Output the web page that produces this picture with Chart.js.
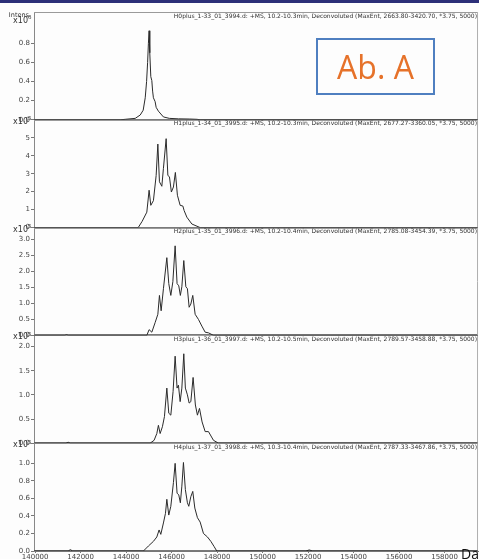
<!DOCTYPE html>
<html>
<head>
<meta charset="utf-8">
<title>Deconvoluted spectra – Ab. A</title>
<script src="https://cdn.jsdelivr.net/npm/chart.js"></script>
<style>
  html, body { margin: 0; padding: 0; background: #fdfdfd; }
  .wrap { position: relative; width: 479px; height: 559px; overflow: hidden; }
  .band { position: absolute; left: 0; top: 0; width: 479px; height: 3px; background: #2c2f78; }
  canvas { position: absolute; left: 0; top: 0; }
  .tag {
    position: absolute; left: 316px; top: 38px; width: 115px; height: 53px;
    border: 2px solid #4f7fc0; color: #e6722a; text-align: center;
    font: 32px 'Open Sans', sans-serif; line-height: 53px;
  }
  .unit { position: absolute; left: 461px; top: 544px; font: 14px 'Open Sans', sans-serif; color: #111; }
</style>
</head>
<body>
<div class="wrap">
  <canvas id="ms" width="479" height="559"></canvas>
  <div class="band"></div>
  <div class="tag">Ab. A</div>
  <div class="unit">Da</div>
</div>
<script>
'use strict'

// mass axis (Da)
const xMin = 139950
const xMax = 159470
const xTicks = [140000, 142000, 144000, 146000, 148000, 150000, 152000, 154000, 156000, 158000]

const titles = [
  'H0plus_1-33_01_3994.d: +MS, 10.2-10.3min, Deconvoluted (MaxEnt, 2663.80-3420.70, *3.75, 5000)',
  'H1plus_1-34_01_3995.d: +MS, 10.2-10.3min, Deconvoluted (MaxEnt, 2677.27-3360.05, *3.75, 5000)',
  'H2plus_1-35_01_3996.d: +MS, 10.2-10.4min, Deconvoluted (MaxEnt, 2785.08-3454.39, *3.75, 5000)',
  'H3plus_1-36_01_3997.d: +MS, 10.2-10.5min, Deconvoluted (MaxEnt, 2789.57-3458.88, *3.75, 5000)',
  'H4plus_1-37_01_3998.d: +MS, 10.3-10.4min, Deconvoluted (MaxEnt, 2787.33-3467.86, *3.75, 5000)'
]

const exponents = ['6', '5', '5', '5', '5']
const yMaxes = [1.126, 6.0, 3.37, 2.23, 1.23]

const yTickValues = [
  [0, 0.2, 0.4, 0.6, 0.8],
  [0, 1, 2, 3, 4, 5],
  [0, 0.5, 1, 1.5, 2, 2.5, 3],
  [0, 0.5, 1, 1.5, 2],
  [0, 0.2, 0.4, 0.6, 0.8, 1]
]
const yTickLabels = [
  ['0.0', '0.2', '0.4', '0.6', '0.8'],
  ['0', '1', '2', '3', '4', '5'],
  ['0.0', '0.5', '1.0', '1.5', '2.0', '2.5', '3.0'],
  ['0.0', '0.5', '1.0', '1.5', '2.0'],
  ['0.0', '0.2', '0.4', '0.6', '0.8', '1.0']
]

// [mass, intensity]
const h0 = [
  [139950, 0], [143740, 0], [143960, 0.005], [144400, 0.015], [144620, 0.05], [144750, 0.1],
  [144840, 0.23], [144900, 0.4], [144945, 0.6], [144980, 0.8], [145010, 0.93], [145040, 0.7],
  [145085, 0.45], [145130, 0.41], [145165, 0.3], [145200, 0.23], [145275, 0.19], [145320, 0.13],
  [145420, 0.09], [145640, 0.03], [145900, 0.015], [146300, 0.01], [146800, 0.008],
  [147120, 0.005], [147250, 0], [159470, 0]
]
const h1 = [
  [139950, 0], [144530, 0], [144705, 0.35], [144910, 0.86], [145010, 2.08], [145085, 1.24],
  [145200, 1.5], [145320, 2.9], [145395, 4.65], [145465, 2.55], [145570, 2.3], [145640, 3.3],
  [145760, 4.95], [145835, 2.9], [145905, 2.83], [145990, 1.98], [146080, 2.26], [146165, 3.07],
  [146255, 1.8], [146375, 1.24], [146495, 1.2], [146550, 0.95], [146670, 0.58], [146890, 0.2],
  [147255, 0], [159470, 0]
]
const h2 = [
  [139950, 0], [141300, 0], [141380, 0.02], [141460, 0], [144910, 0], [145010, 0.18],
  [145130, 0.1], [145275, 0.4], [145395, 0.66], [145465, 1.25], [145540, 0.77], [145640, 1.46],
  [145790, 2.43], [145875, 1.62], [145965, 1.25], [146055, 1.68], [146155, 2.8], [146240, 1.62],
  [146315, 1.55], [146385, 1.25], [146450, 1.52], [146535, 2.34], [146625, 1.52], [146695, 1.46],
  [146770, 0.88], [146845, 0.98], [146930, 1.25], [147035, 0.66], [147180, 0.5], [147330, 0.29],
  [147475, 0.1], [147620, 0.08], [147840, 0], [159470, 0]
]
const h3 = [
  [139950, 0], [141350, 0], [141450, 0.02], [141550, 0], [145055, 0], [145230, 0.06],
  [145350, 0.2], [145420, 0.37], [145495, 0.2], [145595, 0.34], [145685, 0.55], [145790, 1.14],
  [145875, 0.62], [145965, 0.58], [146065, 1.07], [146155, 1.8], [146240, 1.14], [146300, 1.2],
  [146375, 0.86], [146450, 1.14], [146535, 1.85], [146605, 1.14], [146695, 1.0], [146770, 0.83],
  [146845, 0.86], [146945, 1.36], [147045, 0.79], [147135, 0.58], [147225, 0.72], [147340, 0.44],
  [147475, 0.24], [147620, 0.24], [147840, 0.06], [148060, 0], [159470, 0]
]
const h4 = [
  [139950, 0], [141450, 0], [141550, 0.015], [141650, 0], [144760, 0], [144980, 0.057],
  [145200, 0.11], [145350, 0.16], [145450, 0.24], [145525, 0.19], [145640, 0.32], [145730, 0.43],
  [145790, 0.59], [145875, 0.41], [145965, 0.51], [146080, 0.78], [146155, 1.0], [146240, 0.66],
  [146315, 0.64], [146385, 0.55], [146450, 0.74], [146520, 1.01], [146605, 0.7], [146695, 0.55],
  [146755, 0.51], [146845, 0.62], [146930, 0.68], [147020, 0.49], [147135, 0.38], [147255, 0.33],
  [147400, 0.2], [147575, 0.16], [147725, 0.11], [147870, 0.05], [147985, 0], [151900, 0],
  [152050, 0.012], [152200, 0], [159470, 0]
]

const spectra = [h0, h1, h2, h3, h4]

const FONT = "'DejaVu Sans', sans-serif"
const axisIds = spectra.map((_, i) => 'y' + i)

const line = (ctx, x0, y0, x1, y1) => {
  ctx.beginPath()
  ctx.moveTo(x0, y0)
  ctx.lineTo(x1, y1)
  ctx.stroke()
}

const frames = {
  id: 'frames',
  beforeDatasetsDraw(chart) {
    const ctx = chart.ctx
    const { left, right } = chart.chartArea
    ctx.save()
    ctx.lineWidth = 1
    axisIds.forEach(id => {
      const s = chart.scales[id]
      ctx.strokeStyle = '#9a9a9a'
      line(ctx, left, Math.round(s.top) + 0.5, right, Math.round(s.top) + 0.5)
      ctx.strokeStyle = '#7a7a7a'
      line(ctx, left, Math.round(s.bottom) - 0.5, right, Math.round(s.bottom) - 0.5)
    })
    ctx.strokeStyle = '#b0b0b0'
    line(ctx, right - 0.5, chart.chartArea.top, right - 0.5, chart.chartArea.bottom)
    ctx.restore()
  },
  afterDraw(chart) {
    const ctx = chart.ctx
    const { right } = chart.chartArea
    ctx.save()
    ctx.fillStyle = '#333'
    axisIds.forEach((id, i) => {
      const s = chart.scales[id]

      ctx.font = '6px ' + FONT
      ctx.textAlign = 'right'
      ctx.textBaseline = 'middle'
      ctx.fillText(titles[i], right - 1, s.top + 4)

      const yc = i === 0 ? s.top + 9 : s.top + 2
      if (i === 0) {
        ctx.font = '6.5px ' + FONT
        ctx.fillText('Intens.', 31, s.top + 3)
      }
      ctx.font = '8px ' + FONT
      ctx.textAlign = 'right'
      ctx.fillText('x10', 28, yc)
      ctx.font = '5.5px ' + FONT
      ctx.textAlign = 'left'
      ctx.fillText(exponents[i], 28, yc - 3)
    })
    ctx.restore()
  }
}

const scales = {
  x: {
    type: 'linear',
    position: 'bottom',
    min: xMin,
    max: xMax,
    afterBuildTicks: s => { s.ticks = xTicks.map(value => ({ value })) },
    afterFit: s => { s.height = 8 },
    ticks: {
      autoSkip: false,
      maxRotation: 0,
      padding: 0,
      color: '#444',
      font: { family: FONT, size: 7 },
      callback: v => String(v)
    },
    grid: { drawOnChartArea: false, tickLength: 2, color: '#777' },
    border: { color: '#777' }
  }
}

axisIds.forEach((id, i) => {
  scales[id] = {
    type: 'linear',
    position: 'left',
    stack: 'spectra',
    weight: axisIds.length - i,
    min: 0,
    max: yMaxes[i],
    afterBuildTicks: s => { s.ticks = yTickValues[i].map(value => ({ value })) },
    afterFit: s => { s.width = 34 },
    ticks: {
      autoSkip: false,
      padding: 1,
      color: '#444',
      font: { family: FONT, size: 7 },
      callback: (v, idx) => yTickLabels[i][idx]
    },
    grid: { drawOnChartArea: false, tickLength: 3, color: '#777' },
    border: { color: '#888' }
  }
})

new Chart(document.getElementById('ms'), {
  type: 'line',
  data: {
    datasets: spectra.map((points, i) => ({
      data: points.map(([x, y]) => ({ x, y })),
      yAxisID: axisIds[i],
      borderColor: '#2b2b2b',
      borderWidth: 1,
      pointRadius: 0,
      tension: 0
    }))
  },
  options: {
    responsive: false,
    animation: false,
    layout: { padding: { top: 12, right: 1, left: 0, bottom: 0 } },
    plugins: { legend: { display: false }, tooltip: { enabled: false } },
    scales
  },
  plugins: [frames]
})
</script>
</body>
</html>
